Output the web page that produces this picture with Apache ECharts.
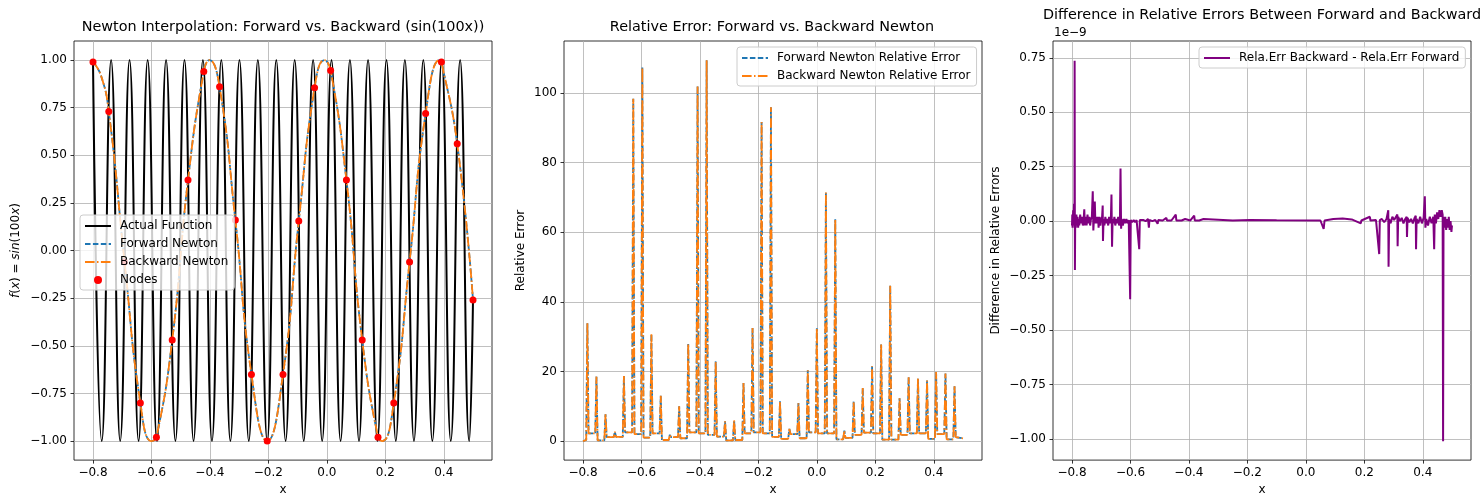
<!DOCTYPE html>
<html>
<head>
<meta charset="utf-8">
<script src="https://cdn.jsdelivr.net/npm/echarts@6/dist/echarts.min.js"></script>
<style>
html, body { margin: 0; padding: 0; background: #fff; }
#chart { width: 1481px; height: 501px; }
</style>
</head>
<body>
<div id="chart"></div>
<script>
// ---- data ----
var xTicks = [-0.8, -0.6, -0.4, -0.2, 0.0, 0.2, 0.4];
var yTicksFunc = [-1.0, -0.75, -0.5, -0.25, 0.0, 0.25, 0.5, 0.75, 1.0];
var yTicksErr = [0, 20, 40, 60, 80, 100];
var yTicksDiff = [-1.0, -0.75, -0.5, -0.25, 0.0, 0.25, 0.5, 0.75];

// sin(100x): extrema of the black curve
var actualX = [-0.800, -0.770, -0.738, -0.707, -0.675, -0.644, -0.613, -0.581, -0.550, -0.518,
    -0.487, -0.456, -0.424, -0.393, -0.361, -0.330, -0.299, -0.267, -0.236, -0.204,
    -0.173, -0.141, -0.110, -0.079, -0.047, -0.016, 0.016, 0.047, 0.079, 0.110,
    0.141, 0.173, 0.204, 0.236, 0.267, 0.298, 0.330, 0.361, 0.393, 0.424,
    0.456, 0.487, 0.500];
var actualY = [0.99, -1, 1, -1, 1, -1, 1, -1, 1, -1,
    1, -1, 1, -1, 1, -1, 1, -1, 1, -1,
    1, -1, 1, -1, 1, -1, 1, -1, 1, -1,
    1, -1, 1, -1, 1, -1, 1, -1, 1, -1,
    1, -1, -0.26];

// interpolation nodes (red dots)
var nodeX = [-0.800, -0.746, -0.692, -0.638, -0.583, -0.529, -0.475, -0.421, -0.367, -0.313,
    -0.258, -0.204, -0.150, -0.096, -0.042, 0.013, 0.067, 0.121, 0.175, 0.229,
    0.283, 0.338, 0.392, 0.446, 0.500];
var nodeY = [0.99, 0.73, -0.06, -0.80, -0.98, -0.47, 0.37, 0.94, 0.86, 0.16,
    -0.65, -1.00, -0.65, 0.155, 0.855, 0.945, 0.37, -0.47, -0.98, -0.80,
    -0.06, 0.72, 0.99, 0.56, -0.26];

// Newton interpolant (forward and backward overlap)
var newtonX = [-0.800, -0.773, -0.746, -0.692, -0.638, -0.600, -0.583, -0.529, -0.475, -0.421,
    -0.402, -0.367, -0.313, -0.258, -0.204, -0.150, -0.096, -0.042, -0.008, 0.013,
    0.067, 0.121, 0.175, 0.190, 0.229, 0.283, 0.338, 0.386, 0.392, 0.446, 0.500];
var newtonY = [0.99, 0.92, 0.73, -0.06, -0.80, -1.00, -0.98, -0.47, 0.37, 0.94,
    1.00, 0.86, 0.16, -0.65, -1.00, -0.65, 0.155, 0.855, 1.00, 0.945,
    0.37, -0.47, -0.98, -1.00, -0.80, -0.06, 0.72, 1.00, 0.99, 0.56, -0.26];

// relative error spikes (at the zeros of sin(100x))
var spikeX = [-0.785, -0.754, -0.723, -0.691, -0.660, -0.628, -0.597, -0.566, -0.534, -0.503,
    -0.471, -0.440, -0.408, -0.377, -0.346, -0.314, -0.283, -0.251, -0.220, -0.189,
    -0.157, -0.126, -0.094, -0.063, -0.031, 0.000, 0.031, 0.063, 0.094, 0.126,
    0.157, 0.189, 0.220, 0.251, 0.283, 0.314, 0.346, 0.377, 0.408, 0.440, 0.471];
var spikePeak = [33.8, 18.5, 7.7, 2.7, 18.7, 98.3, 107.3, 30.7, 13.0, 1.8,
    10.0, 27.9, 101.8, 109.4, 22.9, 5.7, 6.0, 16.7, 32.5, 91.6,
    95.9, 11.4, 3.5, 10.9, 20.3, 32.4, 71.4, 63.7, 3.0, 11.4,
    15.2, 21.5, 27.7, 44.6, 12.3, 18.3, 18.0, 17.4, 19.8, 19.4, 15.7];
// error level in the gaps between spikes
var spikeBase = [0.3, 2.2, 0.2, 1.1, 1.2, 2.5, 2.0, 1.0, 2.2, 0.3,
    1.1, 0.8, 2.5, 2.2, 1.8, 1.3, 0.2, 0.3, 2.2, 2.5,
    2.2, 1.2, 0.6, 2.0, 0.8, 2.5, 2.2, 2.2, 0.5, 0.9,
    1.8, 2.4, 2.2, 0.4, 0.4, 1.8, 2.2, 2.2, 0.6, 2.0,
    0.5, 1.1];

// backward - forward relative error, in units of 1e-9
var diffX = [-0.800, -0.799, -0.798, -0.796, -0.795, -0.793, -0.7915, -0.791, -0.790, -0.789,
    -0.787, -0.785, -0.783, -0.781, -0.779, -0.777, -0.775, -0.772, -0.769, -0.766,
    -0.763, -0.760, -0.758, -0.756, -0.753, -0.750, -0.747, -0.744, -0.741, -0.738,
    -0.735, -0.732, -0.729, -0.727, -0.725, -0.722, -0.720, -0.717, -0.714, -0.711,
    -0.709, -0.706, -0.703, -0.700, -0.697, -0.695, -0.694, -0.692, -0.689, -0.686,
    -0.683, -0.680, -0.676, -0.673, -0.670, -0.667, -0.665, -0.663, -0.661, -0.658,
    -0.655, -0.652, -0.648, -0.645, -0.642, -0.639, -0.636, -0.634, -0.632, -0.630,
    -0.626, -0.622, -0.618, -0.614, -0.610, -0.606, -0.601, -0.599, -0.594, -0.589,
    -0.584, -0.579, -0.574, -0.570, -0.568, -0.562, -0.555, -0.548, -0.540, -0.537,
    -0.535, -0.525, -0.515, -0.507, -0.505, -0.490, -0.477, -0.475, -0.460, -0.445,
    -0.443, -0.425, -0.413, -0.411, -0.395, -0.382, -0.380, -0.365, -0.350, -0.348,
    -0.250, -0.190, -0.188, -0.100, 0.050, 0.061, 0.064, 0.094, 0.096, 0.126,
    0.128, 0.157, 0.159, 0.188, 0.190, 0.219, 0.221, 0.240, 0.245, 0.251,
    0.253, 0.260, 0.268, 0.276, 0.282, 0.283, 0.285, 0.290, 0.296, 0.302,
    0.308, 0.313, 0.314, 0.316, 0.322, 0.328, 0.334, 0.340, 0.345, 0.346,
    0.348, 0.354, 0.360, 0.366, 0.372, 0.376, 0.377, 0.379, 0.385, 0.391,
    0.397, 0.403, 0.407, 0.409, 0.412, 0.418, 0.424, 0.430, 0.436, 0.439,
    0.441, 0.445, 0.449, 0.453, 0.457, 0.461, 0.465, 0.468, 0.4695, 0.471,
    0.474, 0.477, 0.480, 0.483, 0.486, 0.489, 0.492, 0.495, 0.498, 0.500];
var diffY = [-0.02, 0.03, -0.03, 0.05, -0.02, 0.08, 0.01, 0.736, -0.224, 0.02,
    -0.03, 0.03, -0.02, 0.02, -0.03, 0.01, -0.02, 0.03, -0.01, 0.02,
    -0.02, 0.01, 0.054, -0.02, 0.02, -0.02, 0.03, -0.01, 0.02, -0.02,
    0.01, 0.02, 0.137, -0.043, 0.01, 0.09, -0.01, 0.02, -0.01, 0.02,
    -0.03, 0.02, -0.02, 0.01, 0.02, 0.072, -0.091, 0.01, -0.02, 0.02,
    -0.01, 0.01, -0.02, 0.02, -0.01, 0.01, 0.122, -0.118, 0.01, -0.01,
    0.02, -0.02, 0.01, -0.01, 0.02, -0.02, 0.01, 0.242, -0.035, 0.01,
    -0.02, 0.01, -0.01, 0.01, -0.01, 0.005, -0.359, 0.005, -0.005, 0.005,
    -0.005, 0.005, 0.0, -0.129, 0.005, 0.0, 0.005, 0.0, 0.01, -0.03,
    0.005, 0.0, 0.005, -0.012, 0.005, 0.003, 0.015, 0.003, 0.003, 0.03,
    0.003, 0.003, 0.01, 0.003, 0.003, 0.025, 0.003, 0.003, 0.01, 0.003,
    0.003, 0.005, 0.003, 0.004, 0.003, -0.036, 0.003, 0.01, 0.003, 0.012,
    0.003, 0.008, 0.003, -0.01, 0.003, 0.02, 0.003, 0.005, 0.0, -0.151,
    0.005, 0.01, -0.005, 0.01, 0.05, -0.209, 0.01, -0.01, 0.02, 0.005,
    0.01, 0.03, -0.115, 0.02, 0.0, 0.015, -0.01, 0.01, 0.02, -0.073,
    0.015, -0.005, 0.01, -0.01, 0.015, 0.025, -0.129, 0.01, -0.01, 0.02,
    -0.01, 0.015, 0.114, -0.03, 0.01, -0.02, 0.02, -0.01, 0.02, -0.129,
    0.03, -0.01, 0.04, 0.01, 0.05, 0.02, 0.05, 0.03, -1.01, 0.02,
    -0.03, 0.02, -0.04, 0.01, -0.03, 0.02, -0.04, 0.0, -0.05, -0.02];

// ---- build series data ----
function pairs(xs, ys) {
    return xs.map(function (x, i) { return [x, ys[i]]; });
}
var relErr = [[-0.8, 0]];
spikeX.forEach(function (x, i) {
    relErr.push([x - 0.004, spikeBase[i]], [x, spikePeak[i]], [x + 0.004, spikeBase[i + 1]]);
});
relErr.push([0.5, 0.8]);

var FONT = 'DejaVu Sans';
var FS = 12;
var dashed = [5.5, 2.4];
var dashDot = [9.6, 2.4, 1.5, 2.4];

function fmt(digits) {
    return function (v) { return v.toFixed(digits).replace('-', '\u2212'); };
}

function xAxisFor(gi) {
    return {
        type: 'value', gridIndex: gi, min: -0.865, max: 0.565,
        name: 'x', nameLocation: 'middle', nameGap: 21,
        nameTextStyle: { color: '#000', fontSize: FS, fontFamily: FONT },
        axisLine: { show: false, onZero: false },
        axisTick: { show: true, length: 3.5, customValues: xTicks, lineStyle: { color: '#000', width: 0.8 } },
        axisLabel: { customValues: xTicks, formatter: fmt(1), margin: 7, color: '#000', fontSize: FS, fontFamily: FONT },
        splitLine: { show: true, lineStyle: { color: '#b0b0b0', width: 0.8 } }
    };
}

function yAxisFor(gi, min, max, ticks, digits, name, gap) {
    return {
        type: 'value', gridIndex: gi, min: min, max: max,
        name: name, nameLocation: 'middle', nameGap: gap,
        nameTextStyle: {
            color: '#000', fontSize: FS, fontFamily: FONT,
            rich: { i: { fontStyle: 'italic', fontSize: FS, fontFamily: FONT, color: '#000' } }
        },
        axisLine: { show: false, onZero: false },
        axisTick: { show: true, length: 3.5, customValues: ticks, lineStyle: { color: '#000', width: 0.8 } },
        axisLabel: { customValues: ticks, formatter: fmt(digits), margin: 7, color: '#000', fontSize: FS, fontFamily: FONT },
        splitLine: { show: true, lineStyle: { color: '#b0b0b0', width: 0.8 } }
    };
}

function gridAt(left) {
    return { left: left, top: 41, width: 418, height: 427, show: true, borderColor: '#000', borderWidth: 0.8 };
}

function titleAt(x, top, text) {
    return { text: text, left: x, top: top, textAlign: 'center', padding: 0,
        textStyle: { color: '#000', fontSize: 14.4, fontWeight: 'normal', fontFamily: FONT } };
}

// line entries hide the marker that ECharts adds to line legend icons
function lineItem(name) {
    return { name: name, itemStyle: { opacity: 0 } };
}

function legendAt(left, top, items) {
    return {
        left: left, top: top, orient: 'vertical', data: items,
        itemWidth: 26, itemHeight: 8, itemGap: 6,
        padding: [5, 6, 4, 4],
        backgroundColor: 'rgba(255,255,255,0.8)', borderColor: '#cccccc', borderWidth: 1, borderRadius: 3,
        textStyle: { color: '#000', fontSize: FS, fontFamily: FONT, padding: [0, 0, 0, 4] },
        selectedMode: false
    };
}

var myChart = echarts.init(document.getElementById('chart'), null, { renderer: 'canvas' });

var option = {
    animation: false,
    backgroundColor: '#fff',
    title: [
        titleAt(283, 20, 'Newton Interpolation: Forward vs. Backward (sin(100x))'),
        titleAt(772, 20, 'Relative Error: Forward vs. Backward Newton'),
        titleAt(1262, 8, 'Difference in Relative Errors Between Forward and Backward')
    ],
    grid: [gridAt(74), gridAt(564), gridAt(1053)],
    xAxis: [xAxisFor(0), xAxisFor(1), xAxisFor(2)],
    yAxis: [
        yAxisFor(0, -1.1, 1.1, yTicksFunc, 2, '{i|f}({i|x}) = {i|sin}(100{i|x})', 52),
        yAxisFor(1, -5.47, 114.9, yTicksErr, 0, 'Relative Error', 37),
        yAxisFor(2, -1.097, 0.827, yTicksDiff, 2, 'Difference in Relative Errors', 51)
    ],
    legend: [
        legendAt(80, 215, [lineItem('Actual Function'), lineItem('Forward Newton'),
            lineItem('Backward Newton'), { name: 'Nodes' }]),
        legendAt(737, 47, [lineItem('Forward Newton Relative Error'), lineItem('Backward Newton Relative Error')]),
        legendAt(1199, 47, [lineItem('Rela.Err Backward - Rela.Err Forward')])
    ],
    graphic: [{
        type: 'text', left: 1054, top: 27,
        style: { text: '1e\u22129', fill: '#000', font: FS + 'px "DejaVu Sans"' }
    }],
    series: [
        {
            name: 'Actual Function', type: 'line', xAxisIndex: 0, yAxisIndex: 0,
            data: pairs(actualX, actualY), smooth: 0.5, symbol: 'none',
            lineStyle: { color: '#000', width: 2 }, itemStyle: { color: '#000' }
        },
        {
            name: 'Forward Newton', type: 'line', xAxisIndex: 0, yAxisIndex: 0,
            data: pairs(newtonX, newtonY), smooth: 0.5, symbol: 'none',
            lineStyle: { color: '#1f77b4', width: 1.8, type: dashed }, itemStyle: { color: '#1f77b4' }
        },
        {
            name: 'Backward Newton', type: 'line', xAxisIndex: 0, yAxisIndex: 0,
            data: pairs(newtonX, newtonY), smooth: 0.5, symbol: 'none',
            lineStyle: { color: '#ff7f0e', width: 1.8, type: dashDot }, itemStyle: { color: '#ff7f0e' }
        },
        {
            name: 'Nodes', type: 'scatter', xAxisIndex: 0, yAxisIndex: 0, z: 3,
            data: pairs(nodeX, nodeY), symbol: 'circle', symbolSize: 7,
            itemStyle: { color: '#ff0000', opacity: 1 }
        },
        {
            name: 'Forward Newton Relative Error', type: 'line', xAxisIndex: 1, yAxisIndex: 1,
            data: relErr, symbol: 'none',
            lineStyle: { color: '#1f77b4', width: 1.8, type: dashed }, itemStyle: { color: '#1f77b4' }
        },
        {
            name: 'Backward Newton Relative Error', type: 'line', xAxisIndex: 1, yAxisIndex: 1,
            data: relErr, symbol: 'none',
            lineStyle: { color: '#ff7f0e', width: 1.8, type: dashDot }, itemStyle: { color: '#ff7f0e' }
        },
        {
            name: 'Rela.Err Backward - Rela.Err Forward', type: 'line', xAxisIndex: 2, yAxisIndex: 2,
            data: pairs(diffX, diffY), symbol: 'none',
            lineStyle: { color: '#800080', width: 2 }, itemStyle: { color: '#800080' }
        }
    ]
};

myChart.setOption(option);
</script>
</body>
</html>
